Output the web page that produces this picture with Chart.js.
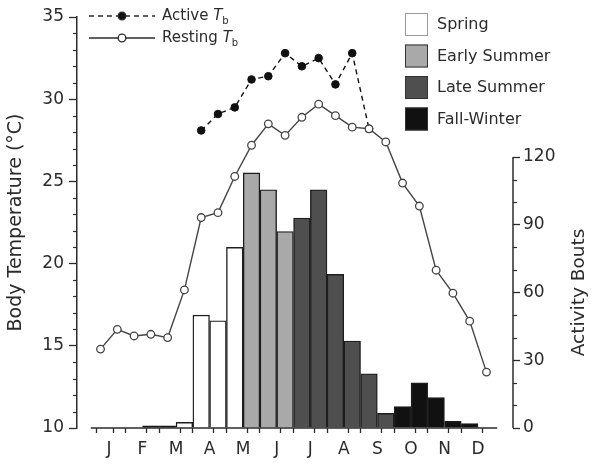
<!DOCTYPE html>
<html>
<head>
<meta charset="utf-8">
<script src="https://cdn.jsdelivr.net/npm/chart.js@4.4.1/dist/chart.umd.min.js"></script>
<style>
  html, body { margin: 0; background: #fff; }
  #wrap { width: 596px; height: 468px; }
</style>
</head>
<body>
<div id="wrap"><canvas id="c" width="596" height="468"></canvas></div>
<script>
// half-month slots, Jan (1st half) .. Dec (2nd half)
const months = ['J', 'F', 'M', 'A', 'M', 'J', 'J', 'A', 'S', 'O', 'N', 'D'];
const restingTb = [14.8, 16.0, 15.6, 15.7, 15.5, 18.4, 22.8, 23.1, 25.3, 27.2, 28.5, 27.8,
                   28.9, 29.7, 29.0, 28.3, 28.2, 27.4, 24.9, 23.5, 19.6, 18.2, 16.5, 13.4];
const activeTb  = [null, null, null, null, null, null, 28.1, 29.1, 29.5, 31.2, 31.4, 32.8,
                   32.0, 32.5, 30.9, 32.8, 28.2, null, null, null, null, null, null, null];
const bouts     = [0, 0, 0, 1, 1, 2.5, 50, 47.5, 80, 113, 105.5, 87,
                   93, 105.5, 68, 38.5, 24, 6.5, 9.5, 20, 13.5, 3, 2, 0];
const season    = ['Fall-Winter', 'Fall-Winter', 'Fall-Winter', 'Fall-Winter', 'Fall-Winter',
                   'Spring', 'Spring', 'Spring', 'Spring',
                   'Early Summer', 'Early Summer', 'Early Summer',
                   'Late Summer', 'Late Summer', 'Late Summer', 'Late Summer', 'Late Summer', 'Late Summer',
                   'Fall-Winter', 'Fall-Winter', 'Fall-Winter', 'Fall-Winter', 'Fall-Winter', 'Fall-Winter'];
const seasonNames = ['Spring', 'Early Summer', 'Late Summer', 'Fall-Winter'];
const tempTicks = [10, 15, 20, 25, 30, 35];
const boutTicks = [0, 30, 60, 90, 120];

const INK = '#2b2b2b';
const FILL = { 'Spring': '#ffffff', 'Early Summer': '#a9a9a9', 'Late Summer': '#4f4f4f', 'Fall-Winter': '#111111' };
const FONT = "'DejaVu Sans', sans-serif";
const NONE = 'rgba(0,0,0,0)';

Chart.defaults.font.family = FONT;
Chart.defaults.color = INK;

const pts = arr => arr.map((v, i) => ({ x: i, y: v }));
const tickVal = c => (c && c.tick ? c.tick.value : NaN);

// axis lines, minor ticks, right-hand title and the two keys
const decor = {
  id: 'decor',
  afterDraw(chart) {
    const { ctx, chartArea: a, scales: { x, y, y1 } } = chart;
    ctx.save();
    ctx.strokeStyle = INK; ctx.lineWidth = 1.5;

    // x axis line stops short of both y axes
    ctx.beginPath();
    ctx.moveTo(x.getPixelForValue(-0.58), a.bottom);
    ctx.lineTo(x.getPixelForValue(23.64), a.bottom);
    ctx.stroke();

    // right axis only covers 0..120
    ctx.beginPath();
    ctx.moveTo(a.right, y1.getPixelForValue(boutTicks[0]));
    ctx.lineTo(a.right, y1.getPixelForValue(boutTicks[boutTicks.length - 1]));
    ctx.stroke();

    // minor ticks
    ctx.lineWidth = 1.2;
    y.ticks.forEach(t => {
      if (tempTicks.includes(t.value)) return;
      const p = Math.round(y.getPixelForValue(t.value)) + 0.5;
      ctx.beginPath(); ctx.moveTo(a.left - 4, p); ctx.lineTo(a.left, p); ctx.stroke();
    });
    y1.ticks.forEach(t => {
      if (boutTicks.includes(t.value)) return;
      const p = Math.round(y1.getPixelForValue(t.value)) + 0.5;
      ctx.beginPath(); ctx.moveTo(a.right, p); ctx.lineTo(a.right + 4, p); ctx.stroke();
    });

    // right axis title, centred on 0..120
    const midY = (y1.getPixelForValue(0) + y1.getPixelForValue(120)) / 2;
    ctx.save();
    ctx.translate(a.right + 66, midY);
    ctx.rotate(-Math.PI / 2);
    ctx.fillStyle = INK; ctx.font = `18.5px ${FONT}`;
    ctx.textAlign = 'center'; ctx.textBaseline = 'middle';
    ctx.fillText('Activity Bouts', 0, 0);
    ctx.restore();

    // Tb key
    const tbKey = (ky, dashed, filled, word) => {
      ctx.save();
      ctx.strokeStyle = INK; ctx.lineWidth = 1.3;
      ctx.setLineDash(dashed ? [5, 4] : []);
      ctx.beginPath(); ctx.moveTo(89, ky); ctx.lineTo(155, ky); ctx.stroke();
      ctx.setLineDash([]);
      ctx.beginPath(); ctx.arc(122, ky, 3.8, 0, Math.PI * 2);
      ctx.fillStyle = filled ? '#111' : '#fff'; ctx.fill(); ctx.stroke();
      ctx.fillStyle = INK; ctx.textBaseline = 'middle'; ctx.textAlign = 'left';
      ctx.font = `15px ${FONT}`;
      let tx = 162;
      ctx.fillText(word + ' ', tx, ky);
      tx += ctx.measureText(word + ' ').width;
      ctx.font = `italic 15px ${FONT}`;
      ctx.fillText('T', tx, ky);
      tx += ctx.measureText('T').width;
      ctx.font = `10px ${FONT}`;
      ctx.fillText('b', tx, ky + 5);
      ctx.restore();
    };
    tbKey(16, true, true, 'Active');
    tbKey(38, false, false, 'Resting');

    // season key
    seasonNames.forEach((s, i) => {
      const top = 13 + i * 31.5;
      ctx.fillStyle = FILL[s];
      ctx.fillRect(405, top, 23, 23);
      ctx.lineWidth = 1;
      ctx.strokeStyle = s === 'Spring' ? '#9a9a9a' : '#333';
      ctx.strokeRect(405.5, top + 0.5, 22, 22);
      ctx.fillStyle = INK; ctx.font = `16px ${FONT}`;
      ctx.textAlign = 'left'; ctx.textBaseline = 'middle';
      ctx.fillText(s, 437, top + 12);
    });
    ctx.restore();
  },
};

new Chart(document.getElementById('c'), {
  data: {
    datasets: [
      {
        type: 'line', label: 'Resting Tb', data: pts(restingTb), yAxisID: 'y', order: 1,
        borderColor: '#444', borderWidth: 1.4, tension: 0,
        pointRadius: 3.8, pointBorderWidth: 1.3, pointBackgroundColor: '#fff', pointBorderColor: '#444',
      },
      {
        type: 'line', label: 'Active Tb', data: pts(activeTb), yAxisID: 'y', order: 2,
        borderColor: '#111', borderWidth: 1.4, borderDash: [5, 4], tension: 0, spanGaps: false,
        pointRadius: 3.8, pointBorderWidth: 1, pointBackgroundColor: '#111', pointBorderColor: '#111',
      },
      {
        type: 'bar', label: 'Activity Bouts', data: pts(bouts), yAxisID: 'y1', order: 3,
        backgroundColor: season.map(s => FILL[s]), borderColor: '#1e1e1e', borderWidth: 1.4,
        borderSkipped: 'start', barThickness: 16.6,
      },
    ],
  },
  options: {
    responsive: false, animation: false, devicePixelRatio: 1,
    layout: { padding: { top: 17, left: 0, right: 0, bottom: 0 } },
    plugins: { legend: { display: false }, tooltip: { enabled: false } },
    scales: {
      x: {
        type: 'linear', min: -1.04, max: 24.22,
        afterBuildTicks: s => {
          const t = [];
          for (let i = 0; i < restingTb.length; i++) t.push({ value: i });
          months.forEach((m, k) => t.push({ value: 2 * k + 0.5 }));
          s.ticks = t.sort((p, q) => p.value - q.value);
        },
        afterFit: s => { s.height = 40; },
        border: { display: false },
        grid: { drawOnChartArea: false, tickLength: 5, tickWidth: 1.3,
                tickColor: c => Number.isInteger(tickVal(c)) ? INK : NONE },
        ticks: { autoSkip: false, maxRotation: 0, padding: 6, font: { size: 17 },
                 callback: v => (Number.isInteger(v) ? '' : months[(v - 0.5) / 2]) },
      },
      y: {
        position: 'left', min: 10, max: 35,
        afterFit: s => { s.width = 77; },
        border: { color: INK, width: 1.5 },
        grid: { drawOnChartArea: false, tickLength: 8, tickWidth: 1.3,
                tickColor: c => tempTicks.includes(tickVal(c)) ? INK : NONE },
        ticks: { stepSize: 1, autoSkip: false, padding: 5, font: { size: 17 },
                 callback: v => (tempTicks.includes(v) ? v : '') },
        title: { display: true, text: 'Body Temperature (°C)', font: { size: 19 }, padding: { top: 5, bottom: 0 } },
      },
      y1: {
        position: 'right', min: 0, max: 182,
        afterBuildTicks: s => {
          const t = [];
          for (let v = 0; v <= boutTicks[boutTicks.length - 1]; v += 10) t.push({ value: v });
          s.ticks = t;
        },
        afterFit: s => { s.width = 83; },
        border: { display: false },
        grid: { drawOnChartArea: false, tickLength: 7, tickWidth: 1.3,
                tickColor: c => boutTicks.includes(tickVal(c)) ? INK : NONE },
        ticks: { autoSkip: false, padding: 3, font: { size: 17 },
                 callback: v => (boutTicks.includes(v) ? v : '') },
      },
    },
  },
  plugins: [decor],
});
</script>
</body>
</html>
